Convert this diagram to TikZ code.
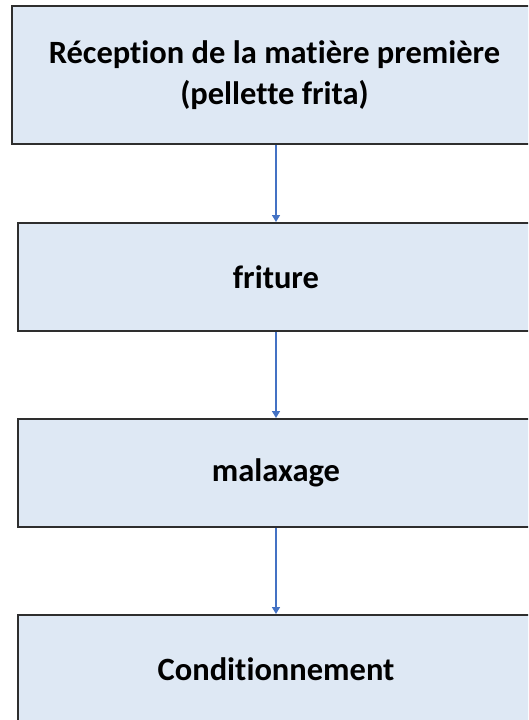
\documentclass[tikz,border=0pt]{standalone}
\usepackage{fontspec}
\setmainfont{Carlito}[Ligatures={NoCommon}]
\usetikzlibrary{arrows.meta}
\definecolor{boxfill}{HTML}{DEE8F4}
\definecolor{boxline}{HTML}{2E2E2E}
\definecolor{arrowblue}{HTML}{4472C4}
\tikzset{
  stepbox/.style={draw=boxline, line width=2pt, fill=boxfill, rectangle, inner sep=0pt,
    font=\fontsize{32.5}{41}\selectfont\bfseries, align=center, text=black},
  flow/.style={draw=arrowblue, line width=1.5pt, -{Triangle[length=7pt,width=8pt]}}
}
\begin{document}
\begin{tikzpicture}[x=1pt,y=-1pt]
\useasboundingbox (0,0) rectangle (528,720);
\clip (0,0) rectangle (528,720);
\node[stepbox, minimum width=525pt, minimum height=138pt] (b1) at (274.5,75) {Réception de la matière première\\(pellette frita)};
\node[stepbox, minimum width=516pt, minimum height=108pt] (b2) at (276,277) {friture};
\node[stepbox, minimum width=516pt, minimum height=108pt] (b3) at (276,473) {malaxage};
\node[stepbox, minimum width=516pt, minimum height=108pt] (b4) at (276,669) {Conditionnement};
\draw[flow] (b1.south -| b2.center) -- (b2.north);
\draw[flow] (b2.south) -- (b3.north);
\draw[flow] (b3.south) -- (b4.north);
\end{tikzpicture}
\end{document}
